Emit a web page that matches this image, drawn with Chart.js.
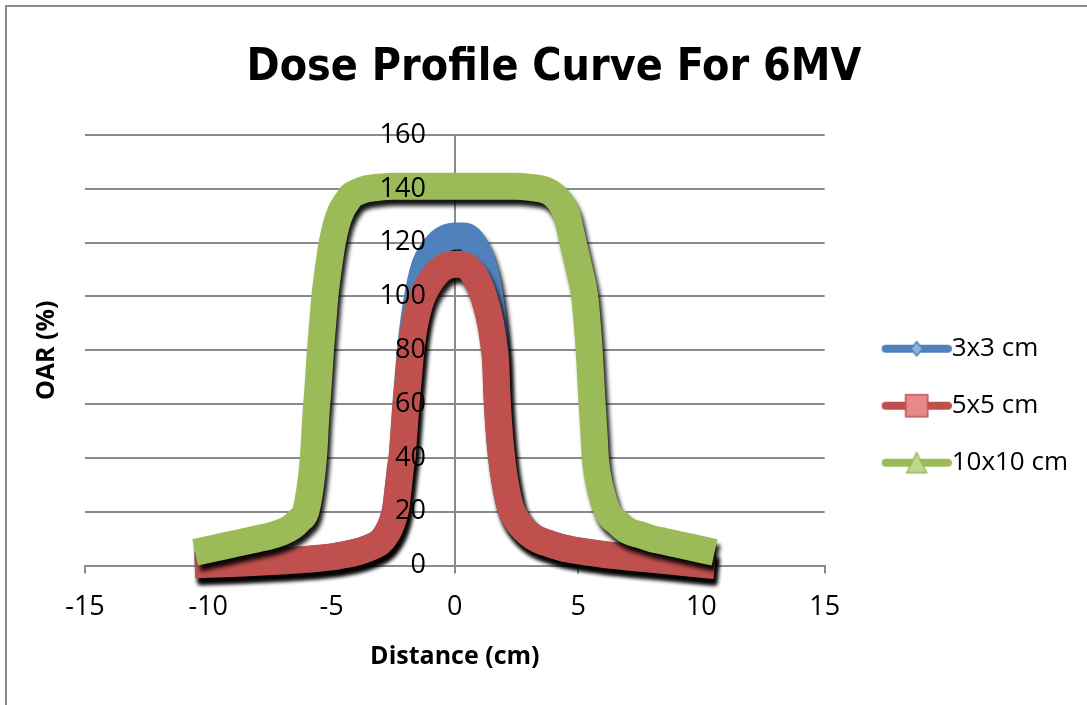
<!DOCTYPE html>
<html>
<head>
<meta charset="utf-8">
<title>Dose Profile Curve For 6MV</title>
<script src="https://cdn.jsdelivr.net/npm/chart.js@4.4.1/dist/chart.umd.min.js"></script>
<style>
  html, body { margin:0; padding:0; background:#fff; }
  #wrap { position:relative; width:1087px; height:705px; overflow:hidden; }
  #chart { position:absolute; left:0; top:0; }
  #frame { position:absolute; left:5px; top:5px; width:1200px; height:800px; border:2px solid #8c8c8c; pointer-events:none; }
</style>
</head>
<body>
<div id="wrap">
  <canvas id="chart" width="1087" height="705"></canvas>
  <div id="frame"></div>
</div>
<script>
// ---- data ----
const seriesNames = ['3x3 cm', '5x5 cm', '10x10 cm'];

const dist3 = [-10,-9,-8,-7,-6,-5,-4,-3.5,-3,-2.75,-2.55,-2.4,-2.28,-2.14,-1.98,-1.8,-1.65,-1.45,-1.2,-0.9,-0.5,0,0.4,0.8,1.1,1.3,1.45,1.58,1.66,1.72,1.8,1.9,2.1,2.25,2.5,2.8,3.2,3.7,4.3,5,6,7,8,9,10];
const oar3  = [0.5,0.8,1.2,1.7,2.3,3.2,5,6.5,9,12,16,21,30,40,60,80,92,103,112,117,121,122.5,122.5,119,113,106,98,88,78,62,50,40,28,22,17,13.5,10.5,8.5,6.8,5.5,4.2,3.2,2.3,1.4,0.5];

const dist5 = [-10,-9,-8,-7,-6,-5,-4.5,-4,-3.5,-3,-2.75,-2.55,-2.4,-2.28,-2.2,-2.14,-2.06,-1.98,-1.88,-1.78,-1.62,-1.4,-1.1,-0.7,-0.3,0.1,0.5,0.85,1.1,1.3,1.45,1.58,1.66,1.7,1.74,1.8,1.88,1.97,2.1,2.25,2.5,2.8,3.2,3.7,4.3,5,6,7,8,9,10];
const oar5  = [0.5,0.8,1.2,1.7,2.3,3.2,4,5,6.5,9,12,16,21,30,37,40,50,60,70,80,90,98,104,109,111.5,112,111,107,102,96,90,82,75,65,58,50,42,35,28,22,17,13.5,10.5,8.5,6.8,5.5,4.2,3.2,2.3,1.4,0.5];

const dist10 = [-10,-9.5,-9,-8.5,-8,-7.5,-7,-6.6,-6.3,-6.05,-5.9,-5.8,-5.72,-5.64,-5.55,-5.45,-5.36,-5.27,-5.12,-4.97,-4.8,-4.6,-4.4,-4.2,-3.9,-3.6,-3.2,-2.5,-1.5,-0.5,0.5,1.5,2.5,3.1,3.5,3.8,4.1,4.35,4.55,4.8,5.05,5.27,5.37,5.45,5.51,5.57,5.64,5.7,5.8,5.95,6.2,6.6,7,7.5,8,8.5,9,9.5,10];
const oar10  = [6,7,8,9,10,11,12.5,14.5,17,20,27,34,42,55,66,80,90,100,111,120,127,132,135,137.5,139,140,140.5,141,141,141,141,141,141,140.5,140,139,137,134,130,120,110,100,90,80,70,60,50,40,33,27,20,16,13,11.5,10,9,8,7,6];

const xMin = -15, xMax = 15, xStep = 5;
const yMin = 0, yMax = 160, yStep = 20;

const lineColors  = ['#4F81BD', '#C0504D', '#9BBB59'];
const markerFills = ['#8fb1dc', '#e58a88', '#bcd88a'];
const markerShapes = ['diamond', 'rect', 'triangle'];

// ---- helpers ----
const baseFamily = '"Open Sans", "Liberation Sans", sans-serif';

function pick(families, weight) {
  const g = document.createElement('canvas').getContext('2d');
  const probe = 'Dose Profile Curve For 6MV';
  g.font = weight + ' 100px monospace';
  const ref = g.measureText(probe).width;
  for (const f of families) {
    g.font = weight + ' 100px "' + f + '", monospace';
    if (Math.abs(g.measureText(probe).width - ref) > 1) return '"' + f + '"';
  }
  return baseFamily;
}

function sizeFor(text, family, weight, target) {
  const g = document.createElement('canvas').getContext('2d');
  g.font = weight + ' 100px ' + family;
  return 100 * target / g.measureText(text).width;
}

function textW(text, font) {
  const g = document.createElement('canvas').getContext('2d');
  g.font = font;
  return g.measureText(text).width;
}

function legendSymbol(color, fill, shape) {
  const c = document.createElement('canvas');
  c.width = 109; c.height = 26;
  const g = c.getContext('2d');
  const x0 = 39, cx = 39 + 35, cy = 13;
  g.strokeStyle = color; g.lineWidth = 8; g.lineCap = 'round';
  g.beginPath(); g.moveTo(x0 + 4, cy); g.lineTo(109 - 4, cy); g.stroke();
  g.fillStyle = fill; g.lineWidth = 1.5;
  g.beginPath();
  if (shape === 'rect') {
    g.rect(cx - 11, cy - 11, 22, 22);
  } else if (shape === 'triangle') {
    g.moveTo(cx, cy - 10); g.lineTo(cx + 10, cy + 10); g.lineTo(cx - 10, cy + 10); g.closePath();
  } else {
    g.moveTo(cx, cy - 7); g.lineTo(cx + 6, cy); g.lineTo(cx, cy + 7); g.lineTo(cx - 6, cy); g.closePath();
  }
  g.fill(); g.stroke();
  return c;
}

// black drop shadow under each band, like the spreadsheet look
const bandShadow = {
  id: 'bandShadow',
  beforeDatasetDraw(chart) {
    const c = chart.ctx;
    c.save();
    c.shadowColor = 'rgba(0,0,0,0.92)';
    c.shadowBlur = 4;
    c.shadowOffsetX = 3;
    c.shadowOffsetY = 6;
  },
  afterDatasetDraw(chart) { chart.ctx.restore(); }
};

// ---- chart ----
const titleText = 'Dose Profile Curve For 6MV';
const titleFamily = pick(['Liberation Sans Narrow', 'DejaVu Sans Condensed'], 'bold');
const titleSize = sizeFor(titleText, titleFamily, 'bold', 615);

const legendFont = 26, legendPad = 31, symbolW = 83;
const widest = Math.max(...seriesNames.map(s => textW(s, legendFont + 'px ' + baseFamily)));
const legendWidth = legendPad + symbolW + legendFont / 2 + widest + 10;
const padRight = Math.round(1087 - 825 - legendWidth);

// y labels sit ~29px left of the axis line at x = 0
const yLabelAt = -29 * (xMax - xMin) / 740;

const symbols = lineColors.map((c, i) => legendSymbol(c, markerFills[i], markerShapes[i]));
const distances = [dist3, dist5, dist10];
const values = [oar3, oar5, oar10];

const datasets = seriesNames.map((name, i) => ({
  label: name,
  data: distances[i].map((x, k) => ({ x: x, y: values[i][k] })),
  showLine: true,
  borderColor: lineColors[i],
  backgroundColor: lineColors[i],
  borderWidth: 27,
  borderJoinStyle: 'round',
  borderCapStyle: 'square',
  cubicInterpolationMode: 'monotone',
  pointRadius: 0,
  pointHoverRadius: 0,
  clip: false,
  order: 3 - i
}));

const gridGray = '#8a8a8a';

new Chart(document.getElementById('chart'), {
  type: 'scatter',
  data: { datasets: datasets },
  plugins: [bandShadow],
  options: {
    responsive: false,
    animation: false,
    devicePixelRatio: 1,
    layout: { padding: { left: 30, right: padRight, top: 0, bottom: 25 } },
    plugins: {
      tooltip: { enabled: false },
      title: {
        display: true,
        text: titleText,
        color: '#000',
        font: { family: titleFamily, size: titleSize, weight: 'bold', lineHeight: '60px' },
        padding: { top: 38, bottom: 37 }
      },
      legend: {
        position: 'right',
        maxWidth: 400,
        title: { display: true, text: '', padding: { top: 117, bottom: 0 }, font: { size: 12, lineHeight: 1.2 } },
        labels: {
          usePointStyle: true,
          pointStyleWidth: symbolW,
          padding: legendPad,
          color: '#000',
          font: { family: baseFamily, size: legendFont },
          generateLabels: (chart) => chart.data.datasets.map((ds, i) => ({
            text: ds.label,
            pointStyle: symbols[i],
            fillStyle: ds.borderColor,
            strokeStyle: ds.borderColor,
            lineWidth: 0,
            hidden: false,
            datasetIndex: i,
            fontColor: '#000'
          }))
        }
      }
    },
    scales: {
      x: {
        type: 'linear',
        position: 'bottom',
        min: xMin, max: xMax,
        ticks: { stepSize: xStep, color: '#000', padding: 18, font: { family: baseFamily, size: 27 } },
        grid: { drawOnChartArea: false, drawTicks: true, tickLength: 8, color: gridGray, lineWidth: 2 },
        border: { display: true, color: gridGray, width: 2 },
        title: { display: true, text: 'Distance (cm)', color: '#000',
                 font: { family: baseFamily, size: 25, weight: 'bold', lineHeight: 1.2 },
                 padding: { top: 0, bottom: 8 } }
      },
      yg: {
        type: 'linear',
        position: 'left',
        min: yMin, max: yMax,
        ticks: { display: false, stepSize: yStep },
        grid: { drawTicks: false, color: gridGray, lineWidth: 2 },
        border: { display: false },
        title: { display: true, text: 'OAR (%)', color: '#000',
                 font: { family: baseFamily, size: 25, weight: 'bold', lineHeight: 1.2 },
                 padding: { top: 2, bottom: 23 } }
      },
      y: {
        type: 'linear',
        position: { x: 0 },
        min: yMin, max: yMax,
        ticks: { display: false, stepSize: yStep },
        grid: { drawOnChartArea: false, drawTicks: true, tickLength: 7, color: gridGray, lineWidth: 2 },
        border: { display: true, color: gridGray, width: 2 }
      },
      yl: {
        type: 'linear',
        position: { x: yLabelAt },
        min: yMin, max: yMax,
        ticks: { stepSize: yStep, color: '#000', z: 1, font: { family: baseFamily, size: 27 } },
        grid: { display: false },
        border: { display: false }
      }
    }
  }
});
</script>
</body>
</html>
